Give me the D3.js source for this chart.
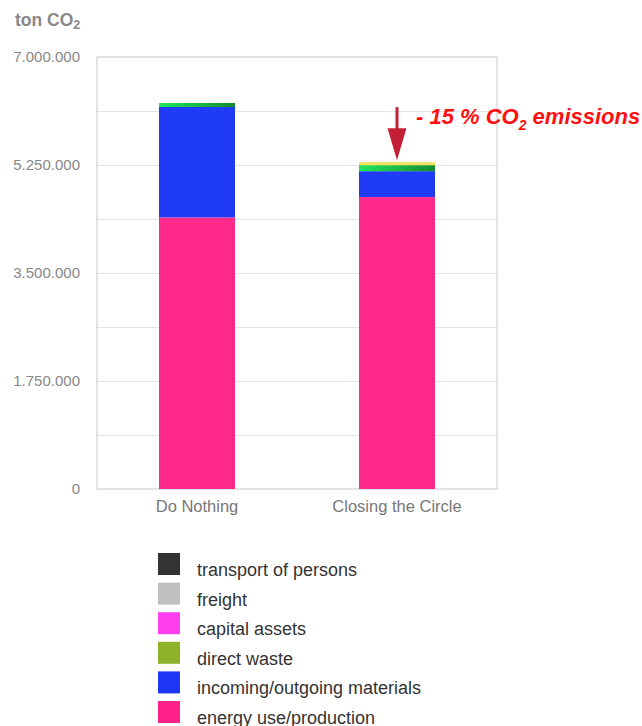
<!DOCTYPE html>
<html>
<head>
<meta charset="utf-8">
<script src="https://cdn.jsdelivr.net/npm/d3@7"></script>
<style>
  body { margin: 0; background: #fff; }
  svg { font-family: "Liberation Sans", Arial, sans-serif; }
</style>
</head>
<body>
<div id="container"></div>
<script>
// container window size
let cwW = 642;
let cwH = 726;

//data
const scenarios = ["Do Nothing", "Closing the Circle"];
const energyUse = [4400000, 4730000];
const materials = [1790000, 420000];
const directWaste = [65000, 97000];
const otherTop = [0, 49000];
const yTicks = [0, 1750000, 3500000, 5250000, 7000000];
const gridTicks = [875000, 1750000, 2625000, 3500000, 4375000, 5250000, 6125000];
const legendNames = ["transport of persons", "freight", "capital assets", "direct waste", "incoming/outgoing materials", "energy use/production"];
const legendColors = ["#333333", "#c0c0c0", "#ff3ff0", "#8db32a", "#1e36f5", "#ff2288"];

const margin = {top: 57, left: 97, right: 145, bottom: 237};
const plotW = cwW - margin.left - margin.right;
const plotH = cwH - margin.top - margin.bottom;

let svgArea = d3.select("#container").append("svg")
  .attr("width", cwW)
  .attr("height", cwH);

let defs = svgArea.append("defs");
let grad = defs.append("linearGradient").attr("id", "greenGrad");
grad.append("stop").attr("offset", "0%").attr("stop-color", "#1fe85a");
grad.append("stop").attr("offset", "100%").attr("stop-color", "#148a2e");

let x = d3.scaleBand().domain(scenarios).range([0, plotW]).paddingInner(0.62).paddingOuter(0.31);
let y = d3.scaleLinear().domain([0, 7000000]).range([plotH, 0]);

let nl = d3.formatLocale({decimal: ",", thousands: ".", grouping: [3], currency: ["", ""]});
let fmt = nl.format(",d");

let g = svgArea.append("g").attr("transform", "translate(" + margin.left + "," + margin.top + ")");

//gridlines (major + minor)
g.append("g")
  .attr("class", "grid")
  .call(d3.axisLeft(y).tickValues(gridTicks).tickSize(-plotW).tickFormat(""))
  .call(s => s.select(".domain").remove())
  .call(s => s.selectAll("line").attr("stroke", "#e4e4e4").attr("stroke-width", 1.2));

//frame
g.append("rect")
  .attr("x", 0).attr("y", 0)
  .attr("width", plotW).attr("height", plotH)
  .attr("fill", "none")
  .attr("stroke", "#c8c8c8");

//y labels
g.append("g")
  .call(d3.axisLeft(y).tickValues(yTicks).tickSize(0).tickPadding(17).tickFormat(fmt))
  .call(s => s.select(".domain").remove())
  .call(s => s.selectAll("text").attr("fill", "#888").attr("font-size", 15));

//x labels
g.append("g")
  .attr("transform", "translate(0," + plotH + ")")
  .call(d3.axisBottom(x).tickSize(0).tickPadding(11))
  .call(s => s.select(".domain").remove())
  .call(s => s.selectAll("text").attr("fill", "#777").attr("font-size", 16.5));

//stacks
let table = scenarios.map((s, i) => ({
  name: s, energy: energyUse[i], materials: materials[i], waste: directWaste[i], other: otherTop[i]
}));
let keys = ["energy", "materials", "waste", "other"];
let fills = {energy: "#ff2a8a", materials: "#1f3bf5", waste: "url(#greenGrad)", other: "#f3e35a"};
let series = d3.stack().keys(keys)(table);

g.append("g").selectAll("g")
  .data(series)
  .enter().append("g")
  .attr("fill", d => fills[d.key])
  .selectAll("rect")
  .data(d => d)
  .enter().append("rect")
  .attr("x", d => x(d.data.name))
  .attr("y", d => y(d[1]))
  .attr("width", x.bandwidth())
  .attr("height", d => y(d[0]) - y(d[1]));

//annotation arrow
let ax = x("Closing the Circle") + x.bandwidth() / 2;
let topC = y(d3.sum(keys, k => table[1][k]));
g.append("line")
  .attr("x1", ax).attr("x2", ax)
  .attr("y1", topC - 55).attr("y2", topC - 25)
  .attr("stroke", "#c42035").attr("stroke-width", 3);
g.append("path")
  .attr("d", "M" + (ax - 9.5) + "," + (topC - 34) + "L" + (ax + 9.5) + "," + (topC - 34) + "L" + ax + "," + (topC - 2) + "Z")
  .attr("fill", "#c42035");

let ann = svgArea.append("text")
  .attr("x", 416).attr("y", 124)
  .attr("fill", "#ff1010")
  .attr("font-size", 22)
  .attr("font-weight", "bold")
  .attr("font-style", "italic");
ann.append("tspan").text("- 15 % CO");
ann.append("tspan").attr("font-size", 14).attr("dy", 6).text("2");
ann.append("tspan").attr("dy", -6).text(" emissions");

//title
let title = svgArea.append("text")
  .attr("x", 15).attr("y", 26)
  .attr("fill", "#888")
  .attr("font-size", 17.5)
  .attr("font-weight", "bold");
title.append("tspan").text("ton CO");
title.append("tspan").attr("font-size", 12.5).attr("dy", 3).text("2");

//legend
let legend = svgArea.append("g").attr("transform", "translate(158,553)");
let items = legend.selectAll("g")
  .data(legendNames)
  .enter().append("g")
  .attr("transform", (d, i) => "translate(0," + (i * 29.6) + ")");
items.append("rect")
  .attr("width", 22).attr("height", 22)
  .attr("fill", (d, i) => legendColors[i]);
items.append("text")
  .attr("x", 39).attr("y", 23)
  .attr("fill", "#333")
  .attr("font-size", 18)
  .text(d => d);
</script>
</body>
</html>
